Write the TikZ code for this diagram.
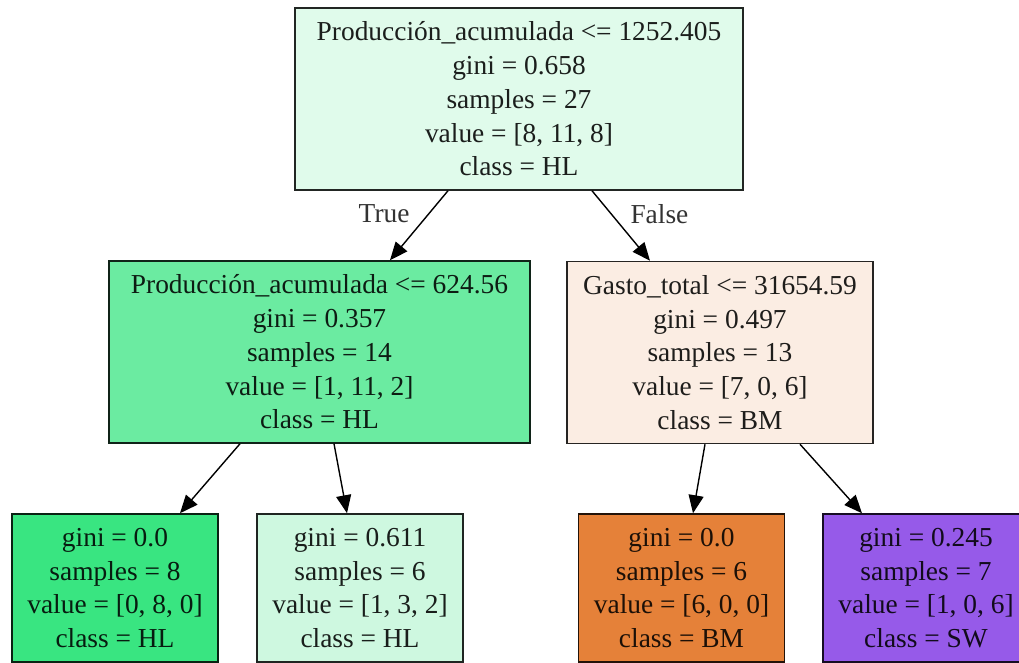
\documentclass[tikz,border=0pt]{standalone}
\usepackage{fontspec}
\setmainfont{Liberation Serif}
\usetikzlibrary{arrows.meta}
\usepackage{xcolor}
\definecolor{hlpale}{HTML}{E0FBEB}
\definecolor{hlmid}{HTML}{6BEBA1}
\definecolor{hlfull}{HTML}{39E581}
\definecolor{hllight}{HTML}{CEF8E0}
\definecolor{bmpale}{HTML}{FBEDE3}
\definecolor{bmfull}{HTML}{E58139}
\definecolor{swmid}{HTML}{965AE9}

\begin{document}
\begin{tikzpicture}[x=0.5pt, y=-0.5pt,
    every node/.style={font=\fontsize{13.7}{16.85}\selectfont, align=center},
    split/.style={draw=#1!15!black, fill=#1, text=#1!12!black, line width=0.75pt, inner sep=0pt, minimum height=91pt},
    leafbox/.style={draw=#1!15!black, fill=#1, text=#1!12!black, line width=0.75pt, inner sep=0pt, minimum height=74pt, minimum width=103pt},
    arr/.style={-{Triangle[length=9pt, width=7.5pt]}, line width=0.7pt},
]
\clip (0,0) rectangle (1019,663);
\fill[white] (0,0) rectangle (1019,663);

% splits
\node[split=hlpale, minimum width=224pt] (prodA) at (519,99)
    {Producción\_acumulada <= 1252.405\\gini = 0.658\\samples = 27\\value = [8, 11, 8]\\class = HL};
\node[split=hlmid, minimum width=210.5pt] (prodB) at (319.5,352)
    {Producción\_acumulada <= 624.56\\gini = 0.357\\samples = 14\\value = [1, 11, 2]\\class = HL};
\node[split=bmpale, minimum width=153pt] (gasto) at (720,352.5)
    {Gasto\_total <= 31654.59\\gini = 0.497\\samples = 13\\value = [7, 0, 6]\\class = BM};

% leaves
\node[leafbox=hlfull] (hlpure) at (115,588)
    {gini = 0.0\\samples = 8\\value = [0, 8, 0]\\class = HL};
\node[leafbox=hllight] (hlmix) at (360,588)
    {gini = 0.611\\samples = 6\\value = [1, 3, 2]\\class = HL};
\node[leafbox=bmfull] (bmpure) at (681.5,588)
    {gini = 0.0\\samples = 6\\value = [6, 0, 0]\\class = BM};
\node[leafbox=swmid] (swleaf) at (926,588)
    {gini = 0.245\\samples = 7\\value = [1, 0, 6]\\class = SW};

% edges
\draw[arr] ([xshift=-35.5pt]prodA.south) -- ([xshift=35.25pt]prodB.north)
    node[pos=0.33, left=6pt, text=black!80] {True};
\draw[arr] ([xshift=36.5pt]prodA.south) -- ([xshift=-35pt]gasto.north)
    node[pos=0.33, right=6pt, text=black!80] {False};
\draw[arr] ([xshift=-39.75pt]prodB.south) -- ([xshift=32.5pt]hlpure.north);
\draw[arr] ([xshift=7.25pt]prodB.south) -- ([xshift=-6.5pt]hlmix.north);
\draw[arr] ([xshift=-7.5pt]gasto.south) -- ([xshift=5.75pt]bmpure.north);
\draw[arr] ([xshift=40pt]gasto.south) -- ([xshift=-32pt]swleaf.north);

\end{tikzpicture}
\end{document}
